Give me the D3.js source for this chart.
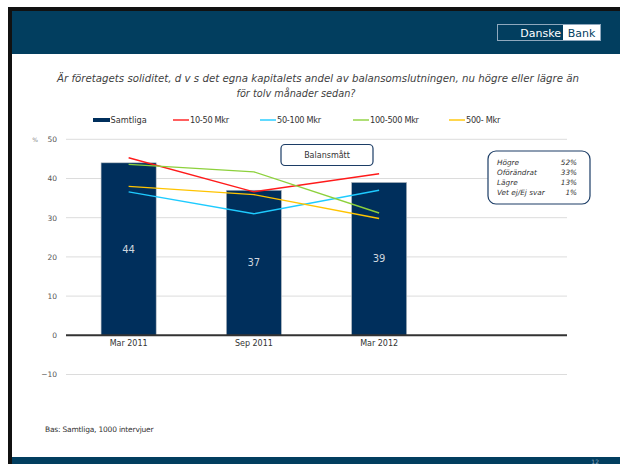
<!DOCTYPE html>
<html>
<head>
<meta charset="utf-8">
<script src="https://cdn.jsdelivr.net/npm/d3@7/dist/d3.min.js"></script>
<style>
  html, body { margin: 0; padding: 0; background: #fff; }
  svg { display: block; }
</style>
</head>
<body>
<svg id="chart" width="620" height="464"></svg>
<script>
// Survey periods (the fourth slot is left empty on the axis)
const categories = ["Mar 2011", "Sep 2011", "Mar 2012", ""];
const periods = ["Mar 2011", "Sep 2011", "Mar 2012"];

// Balance measure, all companies (bars)
const samtliga = [44, 37, 39];

// By company size (lines)
const mkr10_50   = [45.3, 36.6, 41.2];
const mkr50_100  = [36.6, 31.0, 37.0];
const mkr100_500 = [43.6, 41.7, 31.2];
const mkr500     = [38.0, 35.9, 29.8];

const yTicks = [-10, 0, 10, 20, 30, 40, 50];

const seriesNames  = ["10-50 Mkr", "50-100 Mkr", "100-500 Mkr", "500- Mkr"];
const seriesColors = ["#ff1a1a", "#1ecbff", "#8dd13c", "#ffc400"];
const seriesValues = [mkr10_50, mkr50_100, mkr100_500, mkr500];

// Latest answer distribution
const answerLabels = ["Högre", "Oförändrat", "Lägre", "Vet ej/Ej svar"];
const answerShares = ["52%", "33%", "13%", "1%"];

const navy = "#023e5f";
const barColor = "#002f5c";
const font = "DejaVu Sans, sans-serif";
const svg = d3.select("#chart");

// ---- slide frame ----
svg.append("rect").attr("x", 8).attr("y", 7).attr("width", 612).attr("height", 4).attr("fill", "#111");
svg.append("rect").attr("x", 8).attr("y", 7).attr("width", 4).attr("height", 457).attr("fill", "#111");
svg.append("rect").attr("x", 12).attr("y", 11).attr("width", 608).attr("height", 43).attr("fill", navy);
svg.append("rect").attr("x", 12).attr("y", 457).attr("width", 608).attr("height", 7).attr("fill", navy);
svg.append("text").attr("x", 599).attr("y", 463.5).attr("text-anchor", "end")
  .attr("font-family", font).attr("font-size", 6).attr("fill", "#8fa8bd").text("12");

// logo
svg.append("rect").attr("x", 497.5).attr("y", 24.5).attr("width", 103).attr("height", 16)
  .attr("fill", "none").attr("stroke", "#8fa8bd").attr("stroke-width", 1);
svg.append("rect").attr("x", 563).attr("y", 25).attr("width", 37).attr("height", 15).attr("fill", "#fff");
svg.append("text").attr("x", 561).attr("y", 36.5).attr("text-anchor", "end")
  .attr("font-family", font).attr("font-size", 11).attr("fill", "#fff").text("Danske");
svg.append("text").attr("x", 581.5).attr("y", 36.5).attr("text-anchor", "middle")
  .attr("font-family", font).attr("font-size", 11).attr("fill", navy).text("Bank");

// ---- title ----
const title = svg.append("text").attr("text-anchor", "middle")
  .attr("font-family", font).attr("font-style", "italic")
  .attr("font-size", 9.6).attr("fill", "#3f3f3f");
title.append("tspan").attr("x", 318).attr("y", 82)
  .attr("textLength", 522).attr("lengthAdjust", "spacingAndGlyphs")
  .text("Är företagets soliditet, d v s det egna kapitalets andel av balansomslutningen, nu högre eller lägre än");
title.append("tspan").attr("x", 296).attr("y", 97)
  .attr("textLength", 119).attr("lengthAdjust", "spacingAndGlyphs")
  .text("för tolv månader sedan?");

// ---- scales ----
const x = d3.scaleBand().domain(categories).range([66, 567]).paddingInner(0.56).paddingOuter(0.28);
const y = d3.scaleLinear().domain([-10, 50]).range([374.5, 139.3]);
const cx = d => x(d) + x.bandwidth() / 2;

// gridlines
svg.append("g").selectAll("line").data(yTicks.filter(t => t !== 0)).join("line")
  .attr("x1", 66).attr("x2", 567).attr("y1", d => y(d)).attr("y2", d => y(d))
  .attr("stroke", "#dcdcdc").attr("stroke-width", 1);

// y axis labels
const yAxis = svg.append("g").attr("transform", "translate(57,0)")
  .call(d3.axisLeft(y).tickValues(yTicks).tickSize(0).tickPadding(0));
yAxis.select(".domain").remove();
yAxis.selectAll("text").attr("font-family", font).attr("font-size", 7.5).attr("fill", "#555");
svg.append("text").attr("x", 35).attr("y", 142).attr("text-anchor", "middle")
  .attr("font-family", font).attr("font-size", 6).attr("fill", "#888").text("%");

// bars
svg.append("g").selectAll("rect").data(periods.map((p, i) => ({p, v: samtliga[i]}))).join("rect")
  .attr("x", d => x(d.p)).attr("width", x.bandwidth())
  .attr("y", d => y(d.v)).attr("height", d => y(0) - y(d.v))
  .attr("fill", barColor).attr("stroke", "#b9bec4").attr("stroke-width", 0.6);

// bar value labels
svg.append("g").selectAll("text").data(periods.map((p, i) => ({p, v: samtliga[i]}))).join("text")
  .attr("x", d => cx(d.p)).attr("y", d => y(d.v / 2) + 3.5).attr("text-anchor", "middle")
  .attr("font-family", font).attr("font-size", 10).attr("fill", "#cfd6de")
  .text(d => d.v);

// zero line
svg.append("line").attr("x1", 66).attr("x2", 567).attr("y1", y(0)).attr("y2", y(0))
  .attr("stroke", "#333").attr("stroke-width", 2);

// x axis labels
const xAxis = svg.append("g").attr("transform", `translate(0,${y(0) + 4})`)
  .call(d3.axisBottom(x).tickSize(0).tickPadding(0));
xAxis.select(".domain").remove();
xAxis.selectAll("text").attr("font-family", font).attr("font-size", 8).attr("fill", "#333")
  .attr("dy", "0.9em");

// lines by company size
const line = d3.line().x((d, i) => cx(periods[i])).y(d => y(d));
svg.append("g").selectAll("path").data(seriesValues).join("path")
  .attr("d", d => line(d)).attr("fill", "none")
  .attr("stroke", (d, i) => seriesColors[i]).attr("stroke-width", 1.4);

// legend
const lg = svg.append("g");
lg.append("rect").attr("x", 93).attr("y", 118).attr("width", 17).attr("height", 4).attr("fill", barColor);
lg.append("text").attr("x", 110.5).attr("y", 123).attr("font-family", font).attr("font-size", 8.2)
  .attr("fill", "#333").text("Samtliga");
const legX = [173, 260, 353, 449];
seriesNames.forEach((n, i) => {
  lg.append("line").attr("x1", legX[i]).attr("x2", legX[i] + 16).attr("y1", 120).attr("y2", 120)
    .attr("stroke", seriesColors[i]).attr("stroke-width", 1.4);
  lg.append("text").attr("x", legX[i] + 17).attr("y", 123).attr("font-family", font).attr("font-size", 8.2)
    .attr("letter-spacing", -0.3).attr("fill", "#333").text(n);
});

// "Balansmått" box
svg.append("rect").attr("x", 281).attr("y", 144.5).attr("width", 92).attr("height", 21).attr("rx", 4)
  .attr("fill", "#fff").attr("stroke", "#1c3d66").attr("stroke-width", 1.2);
svg.append("text").attr("x", 327).attr("y", 158).attr("text-anchor", "middle")
  .attr("font-family", font).attr("font-size", 8).attr("fill", "#333").text("Balansmått");

// answer distribution box
svg.append("rect").attr("x", 488).attr("y", 151).attr("width", 102).attr("height", 53).attr("rx", 8)
  .attr("fill", "#fff").attr("stroke", "#1c3d66").attr("stroke-width", 1.2);
answerLabels.forEach((l, i) => {
  svg.append("text").attr("x", 497).attr("y", 164.5 + i * 10).attr("font-family", font)
    .attr("font-style", "italic").attr("font-size", 7.3).attr("fill", "#333").text(l);
  svg.append("text").attr("x", 577).attr("y", 164.5 + i * 10).attr("text-anchor", "end").attr("font-family", font)
    .attr("font-style", "italic").attr("font-size", 7.3).attr("fill", "#333").text(answerShares[i]);
});

// base note
svg.append("text").attr("x", 45).attr("y", 432).attr("font-family", font).attr("font-size", 7.5)
  .attr("letter-spacing", -0.2).attr("fill", "#333").text("Bas: Samtliga, 1000 intervjuer");
</script>
</body>
</html>
